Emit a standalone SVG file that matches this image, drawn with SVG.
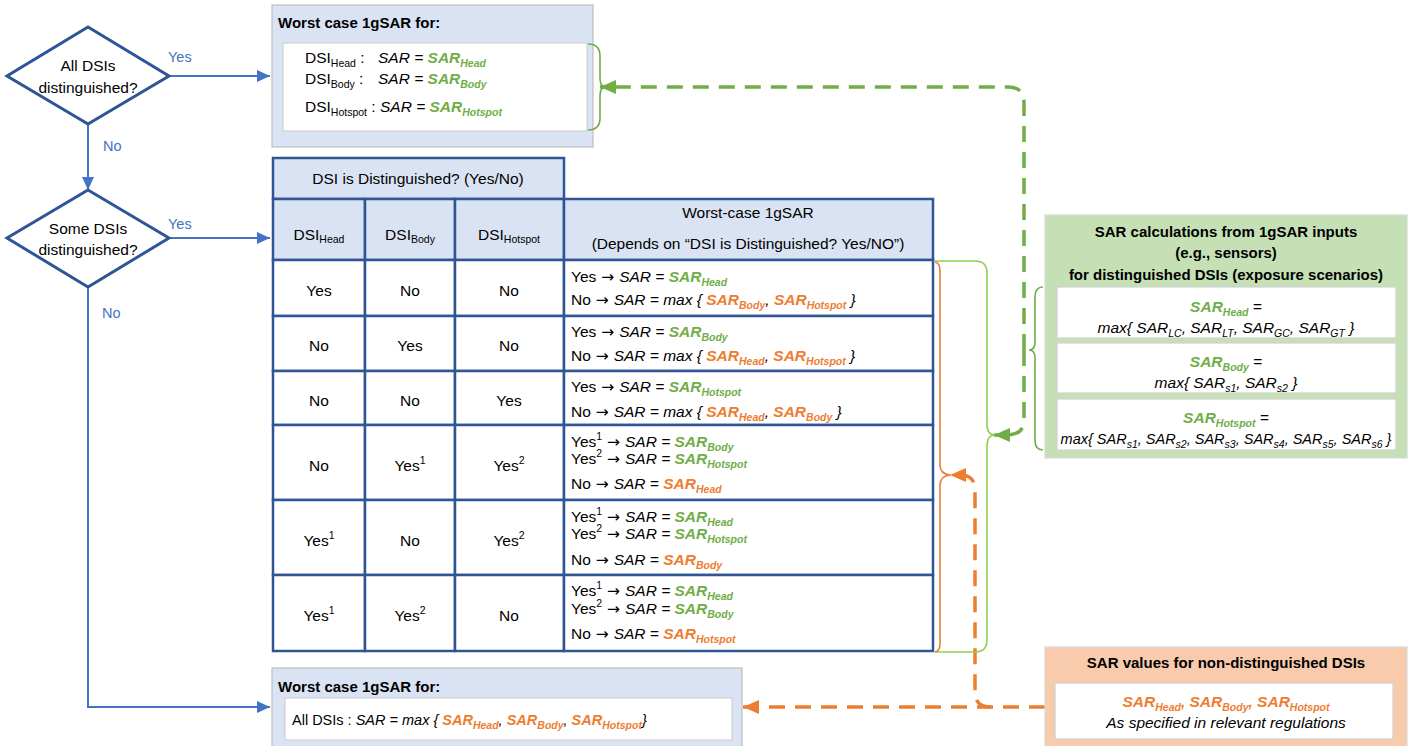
<svg xmlns="http://www.w3.org/2000/svg" width="1408" height="746" viewBox="0 0 1408 746">
<style>
text{font-family:"Liberation Sans",Arial,sans-serif;font-size:15.5px;fill:#000}
.b{font-weight:bold}
.t{font-size:15px}
.i{font-style:italic}
.g{fill:#70AD47}
.o{fill:#ED7D31}
.s{font-size:10.5px}
.sm{font-size:14.5px}
.ar{font-family:"DejaVu Sans",sans-serif;font-style:normal}
.lbl{fill:#4472C4;font-size:14.5px}
.dia{fill:#fff;stroke:#2F5597;stroke-width:3}
.blk{fill:#DAE3F3;stroke:#BFBFBF;stroke-width:1.2}
.inner{fill:#fff;stroke:#D0D0D0;stroke-width:1.2}
.hdr{fill:#DAE3F3;stroke:#2F5597;stroke-width:2.5}
.cell{fill:#fff;stroke:#2F5597;stroke-width:2.5}
.flow{fill:none;stroke:#4472C4;stroke-width:2}
.gd{fill:none;stroke:#70AD47;stroke-width:3.5;stroke-dasharray:16 10}
.od{fill:none;stroke:#ED7D31;stroke-width:3.5;stroke-dasharray:16 10}
.br{fill:none;stroke-width:1.6}
</style>
<defs>
<marker id="ab" markerUnits="userSpaceOnUse" markerWidth="13" markerHeight="12" refX="13" refY="6" orient="auto"><path d="M0,0 L13,6 L0,12 z" fill="#4472C4"/></marker>
<marker id="ag" markerUnits="userSpaceOnUse" markerWidth="16" markerHeight="14" refX="16" refY="7" orient="auto"><path d="M0,0 L16,7 L0,14 z" fill="#70AD47"/></marker>
<marker id="ao" markerUnits="userSpaceOnUse" markerWidth="16" markerHeight="14" refX="16" refY="7" orient="auto"><path d="M0,0 L16,7 L0,14 z" fill="#ED7D31"/></marker>
</defs>

<g id="connectors">
<path class="flow" d="M169,76 L270,76" marker-end="url(#ab)"/>
<path class="flow" d="M88,124 L88,190" marker-end="url(#ab)"/>
<path class="flow" d="M169,238 L270,238" marker-end="url(#ab)"/>
<path class="flow" d="M88,287 L88,707 L270,707" marker-end="url(#ab)"/>
<text class="lbl" x="168" y="62">Yes</text>
<text class="lbl" x="103" y="151">No</text>
<text class="lbl" x="168" y="229">Yes</text>
<text class="lbl" x="102" y="318">No</text>
<path class="gd" d="M1024,350 L1024,103 Q1024,87 1008,87 L600,87" marker-end="url(#ag)"/>
<path class="gd" d="M1024,350 L1024,420 Q1024,434 1008,435 L994,435" marker-end="url(#ag)"/>
<path class="od" d="M1045,707 L743,707" marker-end="url(#ao)"/>
<path class="od" d="M990,707 Q975,707 975,692 L975,490 Q975,476 962,475 L950,475" marker-end="url(#ao)"/>
<path class="br" stroke="#92D050" d="M935,261 L975,261 Q987,261 987,273 L987,424 Q987,435 995,435 Q987,435 987,446 L987,640 Q987,652 975,652 L935,652"/>
<path class="br" stroke="#ED7D31" d="M935,262 Q940,263 940,271 L940,465 Q940,474 950,475 Q940,476 940,485 L940,644 Q940,651 935,652"/>
</g>

<g id="decision-all">
<path class="dia" d="M88,27 L169,76 L88,124 L7,76 z"/>
<text x="88" y="71" text-anchor="middle">All DSIs</text>
<text x="88" y="93" text-anchor="middle">distinguished?</text>
</g>

<g id="decision-some">
<path class="dia" d="M88,190 L169,238 L88,287 L7,238 z"/>
<text x="88" y="234" text-anchor="middle">Some DSIs</text>
<text x="88" y="255" text-anchor="middle">distinguished?</text>
</g>

<g id="worst-all-distinguished">
<rect class="blk" x="272" y="5" width="321" height="142"/>
<text class="b t" x="278" y="28">Worst case 1gSAR for:</text>
<rect class="inner" x="283" y="43" width="304" height="88"/>
<text x="305" y="63">DSI<tspan class="s" dy="4">Head</tspan><tspan dy="-4"> :</tspan></text>
<text x="378" y="63"><tspan class="i">SAR = </tspan><tspan class="b i g">SAR</tspan><tspan class="b i g s" dy="4">Head</tspan></text>
<text x="305" y="84">DSI<tspan class="s" dy="4">Body</tspan><tspan dy="-4"> :</tspan></text>
<text x="378" y="84"><tspan class="i">SAR = </tspan><tspan class="b i g">SAR</tspan><tspan class="b i g s" dy="4">Body</tspan></text>
<text x="305" y="112">DSI<tspan class="s" dy="4">Hotspot</tspan><tspan dy="-4"> : </tspan><tspan class="i">SAR = </tspan><tspan class="b i g">SAR</tspan><tspan class="b i g s" dy="4">Hotspot</tspan></text>
<path class="br" stroke="#70AD47" d="M588,44 Q600,44 600,56 L600,78 Q600,87 606,87 Q600,87 600,96 L600,118 Q600,130 588,130"/>
</g>

<g id="table">
<rect class="hdr" x="273" y="158" width="291" height="41"/>
<rect class="hdr" x="273" y="199" width="92" height="61"/>
<rect class="hdr" x="365" y="199" width="90" height="61"/>
<rect class="hdr" x="455" y="199" width="109" height="61"/>
<rect class="hdr" x="564" y="199" width="369" height="61"/>
<text x="418" y="184" text-anchor="middle">DSI is Distinguished? (Yes/No)</text>
<text x="319" y="240" text-anchor="middle">DSI<tspan class="s" dy="3">Head</tspan></text>
<text x="410" y="240" text-anchor="middle">DSI<tspan class="s" dy="3">Body</tspan></text>
<text x="509" y="240" text-anchor="middle">DSI<tspan class="s" dy="3">Hotspot</tspan></text>
<text x="748" y="218" text-anchor="middle">Worst-case 1gSAR</text>
<text x="748" y="249" text-anchor="middle">(Depends on “DSI is Distinguished? Yes/NO”)</text>

<g id="row1">
<rect class="cell" x="273" y="260" width="92" height="56"/><rect class="cell" x="365" y="260" width="90" height="56"/><rect class="cell" x="455" y="260" width="109" height="56"/><rect class="cell" x="564" y="260" width="369" height="56"/>
<text x="319" y="296" text-anchor="middle">Yes</text><text x="410" y="296" text-anchor="middle">No</text><text x="509" y="296" text-anchor="middle">No</text>
<text x="571" y="282">Yes<tspan class="ar"> → </tspan> <tspan class="i">SAR = </tspan><tspan class="b i g">SAR</tspan><tspan class="b i g s" dy="4">Head</tspan></text>
<text x="571" y="305">No<tspan class="ar"> → </tspan><tspan class="i">SAR = max { </tspan><tspan class="b i o">SAR</tspan><tspan class="b i o s" dy="4">Body</tspan><tspan class="i" dy="-4">, </tspan><tspan class="b i o">SAR</tspan><tspan class="b i o s" dy="4">Hotspot</tspan><tspan class="i" dy="-4">  }</tspan></text>
</g>
<g id="row2">
<rect class="cell" x="273" y="316" width="92" height="55"/><rect class="cell" x="365" y="316" width="90" height="55"/><rect class="cell" x="455" y="316" width="109" height="55"/><rect class="cell" x="564" y="316" width="369" height="55"/>
<text x="319" y="351" text-anchor="middle">No</text><text x="410" y="351" text-anchor="middle">Yes</text><text x="509" y="351" text-anchor="middle">No</text>
<text x="571" y="337">Yes<tspan class="ar"> → </tspan> <tspan class="i">SAR = </tspan><tspan class="b i g">SAR</tspan><tspan class="b i g s" dy="4">Body</tspan></text>
<text x="571" y="361">No<tspan class="ar"> → </tspan><tspan class="i">SAR = max { </tspan><tspan class="b i o">SAR</tspan><tspan class="b i o s" dy="4">Head</tspan><tspan class="i" dy="-4">, </tspan><tspan class="b i o">SAR</tspan><tspan class="b i o s" dy="4">Hotspot</tspan><tspan class="i" dy="-4">  }</tspan></text>
</g>
<g id="row3">
<rect class="cell" x="273" y="371" width="92" height="54"/><rect class="cell" x="365" y="371" width="90" height="54"/><rect class="cell" x="455" y="371" width="109" height="54"/><rect class="cell" x="564" y="371" width="369" height="54"/>
<text x="319" y="406" text-anchor="middle">No</text><text x="410" y="406" text-anchor="middle">No</text><text x="509" y="406" text-anchor="middle">Yes</text>
<text x="571" y="392">Yes<tspan class="ar"> → </tspan> <tspan class="i">SAR = </tspan><tspan class="b i g">SAR</tspan><tspan class="b i g s" dy="4">Hotspot</tspan></text>
<text x="571" y="417">No<tspan class="ar"> → </tspan><tspan class="i">SAR = max { </tspan><tspan class="b i o">SAR</tspan><tspan class="b i o s" dy="4">Head</tspan><tspan class="i" dy="-4">, </tspan><tspan class="b i o">SAR</tspan><tspan class="b i o s" dy="4">Body</tspan><tspan class="i" dy="-4">  }</tspan></text>
</g>
<g id="row4">
<rect class="cell" x="273" y="425" width="92" height="75"/><rect class="cell" x="365" y="425" width="90" height="75"/><rect class="cell" x="455" y="425" width="109" height="75"/><rect class="cell" x="564" y="425" width="369" height="75"/>
<text x="319" y="471" text-anchor="middle">No</text>
<text x="410" y="471" text-anchor="middle">Yes<tspan class="s" dy="-7">1</tspan></text>
<text x="509" y="471" text-anchor="middle">Yes<tspan class="s" dy="-7">2</tspan></text>
<text x="571" y="447">Yes<tspan class="s" dy="-7">1</tspan><tspan class="ar" dy="7"> → </tspan> <tspan class="i">SAR = </tspan><tspan class="b i g">SAR</tspan><tspan class="b i g s" dy="4">Body</tspan></text>
<text x="571" y="464">Yes<tspan class="s" dy="-7">2</tspan><tspan class="ar" dy="7"> → </tspan> <tspan class="i">SAR = </tspan><tspan class="b i g">SAR</tspan><tspan class="b i g s" dy="4">Hotspot</tspan></text>
<text x="571" y="489">No<tspan class="ar"> → </tspan><tspan class="i">SAR = </tspan><tspan class="b i o">SAR</tspan><tspan class="b i o s" dy="4">Head</tspan></text>
</g>
<g id="row5">
<rect class="cell" x="273" y="500" width="92" height="75"/><rect class="cell" x="365" y="500" width="90" height="75"/><rect class="cell" x="455" y="500" width="109" height="75"/><rect class="cell" x="564" y="500" width="369" height="75"/>
<text x="319" y="546" text-anchor="middle">Yes<tspan class="s" dy="-7">1</tspan></text>
<text x="410" y="546" text-anchor="middle">No</text>
<text x="509" y="546" text-anchor="middle">Yes<tspan class="s" dy="-7">2</tspan></text>
<text x="571" y="522">Yes<tspan class="s" dy="-7">1</tspan><tspan class="ar" dy="7"> → </tspan> <tspan class="i">SAR = </tspan><tspan class="b i g">SAR</tspan><tspan class="b i g s" dy="4">Head</tspan></text>
<text x="571" y="539">Yes<tspan class="s" dy="-7">2</tspan><tspan class="ar" dy="7"> → </tspan> <tspan class="i">SAR = </tspan><tspan class="b i g">SAR</tspan><tspan class="b i g s" dy="4">Hotspot</tspan></text>
<text x="571" y="565">No<tspan class="ar"> → </tspan><tspan class="i">SAR = </tspan><tspan class="b i o">SAR</tspan><tspan class="b i o s" dy="4">Body</tspan></text>
</g>
<g id="row6">
<rect class="cell" x="273" y="575" width="92" height="76"/><rect class="cell" x="365" y="575" width="90" height="76"/><rect class="cell" x="455" y="575" width="109" height="76"/><rect class="cell" x="564" y="575" width="369" height="76"/>
<text x="319" y="621" text-anchor="middle">Yes<tspan class="s" dy="-7">1</tspan></text>
<text x="410" y="621" text-anchor="middle">Yes<tspan class="s" dy="-7">2</tspan></text>
<text x="509" y="621" text-anchor="middle">No</text>
<text x="571" y="596">Yes<tspan class="s" dy="-7">1</tspan><tspan class="ar" dy="7"> → </tspan> <tspan class="i">SAR = </tspan><tspan class="b i g">SAR</tspan><tspan class="b i g s" dy="4">Head</tspan></text>
<text x="571" y="614">Yes<tspan class="s" dy="-7">2</tspan><tspan class="ar" dy="7"> → </tspan> <tspan class="i">SAR = </tspan><tspan class="b i g">SAR</tspan><tspan class="b i g s" dy="4">Body</tspan></text>
<text x="571" y="639">No<tspan class="ar"> → </tspan><tspan class="i">SAR = </tspan><tspan class="b i o">SAR</tspan><tspan class="b i o s" dy="4">Hotspot</tspan></text>
</g>
</g>

<g id="worst-none-distinguished">
<rect class="blk" x="272" y="668" width="470" height="80"/>
<text class="b t" x="278" y="692">Worst case 1gSAR for:</text>
<rect class="inner" x="285" y="698" width="447" height="42"/>
<text class="sm" x="292" y="725">All DSIs : <tspan class="i">SAR = max { </tspan><tspan class="b i o">SAR</tspan><tspan class="b i o s" dy="4">Head</tspan><tspan class="i" dy="-4">, </tspan><tspan class="b i o">SAR</tspan><tspan class="b i o s" dy="4">Body</tspan><tspan class="i" dy="-4">, </tspan><tspan class="b i o">SAR</tspan><tspan class="b i o s" dy="4">Hotspot</tspan><tspan class="i" dy="-4">}</tspan></text>
</g>

<g id="sar-calculations">
<rect x="1045" y="215" width="362" height="243" fill="#C5E0B4" stroke="#D9D9D9" stroke-width="1.2"/>
<text class="b t" x="1226" y="237" text-anchor="middle">SAR calculations from 1gSAR inputs</text>
<text class="b t" x="1226" y="258" text-anchor="middle">(e.g., sensors)</text>
<text class="b t" x="1226" y="280" text-anchor="middle">for distinguished DSIs (exposure scenarios)</text>
<rect class="inner" x="1057" y="287" width="339" height="51"/>
<rect class="inner" x="1057" y="343" width="339" height="50"/>
<rect class="inner" x="1057" y="399" width="339" height="51"/>
<text x="1226" y="312" text-anchor="middle"><tspan class="b i g">SAR</tspan><tspan class="b i g s" dy="4">Head</tspan><tspan class="i" dy="-4"> =</tspan></text>
<text class="i" x="1226" y="333" text-anchor="middle">max{ SAR<tspan class="s" dy="4">LC</tspan><tspan dy="-4">, SAR</tspan><tspan class="s" dy="4">LT</tspan><tspan dy="-4">, SAR</tspan><tspan class="s" dy="4">GC</tspan><tspan dy="-4">, SAR</tspan><tspan class="s" dy="4">GT</tspan><tspan dy="-4"> }</tspan></text>
<text x="1226" y="367" text-anchor="middle"><tspan class="b i g">SAR</tspan><tspan class="b i g s" dy="4">Body</tspan><tspan class="i" dy="-4"> =</tspan></text>
<text class="i" x="1226" y="388" text-anchor="middle">max{ SAR<tspan class="s" dy="4">s1</tspan><tspan dy="-4">, SAR</tspan><tspan class="s" dy="4">s2</tspan><tspan dy="-4"> }</tspan></text>
<text x="1226" y="423" text-anchor="middle"><tspan class="b i g">SAR</tspan><tspan class="b i g s" dy="4">Hotspot</tspan><tspan class="i" dy="-4"> =</tspan></text>
<text class="i sm" x="1226" y="444" text-anchor="middle">max{ SAR<tspan class="s" dy="4">s1</tspan><tspan dy="-4">, SAR</tspan><tspan class="s" dy="4">s2</tspan><tspan dy="-4">, SAR</tspan><tspan class="s" dy="4">s3</tspan><tspan dy="-4">, SAR</tspan><tspan class="s" dy="4">s4</tspan><tspan dy="-4">, SAR</tspan><tspan class="s" dy="4">s5</tspan><tspan dy="-4">, SAR</tspan><tspan class="s" dy="4">s6</tspan><tspan dy="-4"> }</tspan></text>
<path class="br" stroke="#70AD47" d="M1043,287 Q1035,287 1035,297 L1035,342 Q1035,350 1029,350 Q1035,350 1035,358 L1035,440 Q1035,450 1043,450"/>
</g>

<g id="sar-values">
<rect x="1045" y="647" width="362" height="101" fill="#F8CBAD" stroke="#D9D9D9" stroke-width="1.2"/>
<text class="b t" x="1226" y="668" text-anchor="middle">SAR values for non-distinguished DSIs</text>
<rect class="inner" x="1055" y="683" width="338" height="56"/>
<text x="1226" y="707" text-anchor="middle"><tspan class="b i o">SAR</tspan><tspan class="b i o s" dy="4">Head</tspan><tspan class="b i o" dy="-4">, SAR</tspan><tspan class="b i o s" dy="4">Body</tspan><tspan class="b i o" dy="-4">, SAR</tspan><tspan class="b i o s" dy="4">Hotspot</tspan></text>
<text class="i" x="1226" y="728" text-anchor="middle">As specified in relevant regulations</text>
</g>
</svg>
